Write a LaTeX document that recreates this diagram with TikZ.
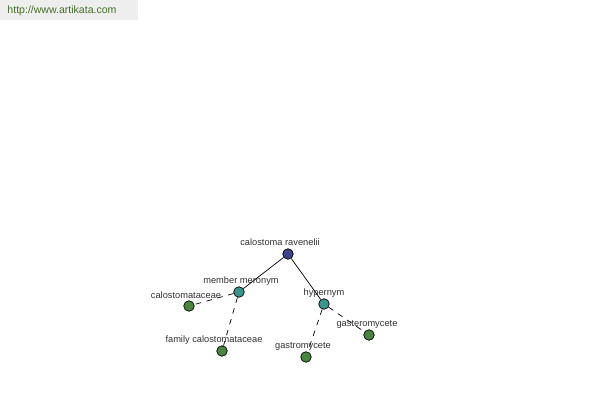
\documentclass[tikz,border=0pt]{standalone}
\usepackage{fontspec}
\setmainfont{Liberation Sans}
\usetikzlibrary{positioning}
\definecolor{rootblue}{RGB}{58,66,140}
\definecolor{relteal}{RGB}{56,148,140}
\definecolor{leafgreen}{RGB}{72,134,62}
\definecolor{bannergray}{RGB}{238,238,238}
\definecolor{bannertext}{RGB}{70,110,40}
\tikzset{dot/.style={circle,draw=black,line width=0.5pt,minimum size=7.5pt,inner sep=0pt},
  lbl/.style={font=\fontsize{6.6}{7}\selectfont,text=black!80,inner sep=0pt},
  rel/.style={line width=0.5pt},
  weak/.style={rel,dash pattern=on 4pt off 4pt}}
\begin{document}
\begin{tikzpicture}[x=0.025cm,y=-0.025cm]
\useasboundingbox (0,0) rectangle (600,400);
\fill[white] (0,0) rectangle (600,400);
% banner
\fill[bannergray] (0,0) rectangle (138,20);
\node[font=\fontsize{7.5}{9}\selectfont,text=bannertext,inner sep=0pt] (site) at (62,11) {http://www.artikata.com};
% nodes
\node[dot,fill=rootblue] (root) at (288,254) {};
\node[dot,fill=relteal] (mero) at (239,292) {};
\node[dot,fill=relteal] (hyper) at (324,304) {};
\node[dot,fill=leafgreen] (calo) at (189,306) {};
\node[dot,fill=leafgreen] (family) at (222,351) {};
\node[dot,fill=leafgreen] (gastro) at (306,357) {};
\node[dot,fill=leafgreen] (gaster) at (369,335) {};
% links
\begin{scope}
\draw[rel] (root) -- (mero);
\draw[rel] (root) -- (hyper);
\draw[weak] (mero) -- (calo);
\draw[weak] (mero) -- (family);
\draw[weak] (hyper) -- (gastro);
\draw[weak] (hyper) -- (gaster);
\end{scope}
% labels
\node[lbl] (rootl) at (280,242.5) {calostoma ravenelii};
\node[lbl] (merol) at (241,281.5) {member meronym};
\node[lbl] (hyperl) at (324,293.5) {hypernym};
\node[lbl] (calol) at (186,295.5) {calostomataceae};
\node[lbl] (familyl) at (214,340.5) {family calostomataceae};
\node[lbl] (gastrol) at (303,346.5) {gastromycete};
\node[lbl] (gasterl) at (367,324.5) {gasteromycete};
\end{tikzpicture}
\end{document}
